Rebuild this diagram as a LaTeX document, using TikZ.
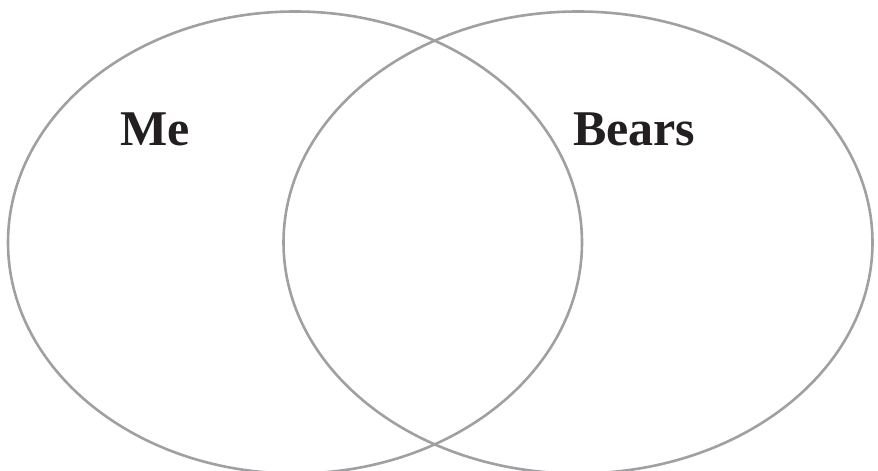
\documentclass[tikz,border=0pt]{standalone}
\usepackage{fontspec}
\setmainfont{Liberation Serif}
\definecolor{ringgray}{RGB}{160,160,163}
\definecolor{txt}{RGB}{35,31,32}
\begin{document}
\begin{tikzpicture}[x=1pt,y=-1pt,
  ring/.style={draw=ringgray,line width=2.6pt},
  lbl/.style={anchor=base west,inner sep=0pt,text=txt,font=\fontsize{50}{60}\selectfont\bfseries}]
\useasboundingbox (0,0) rectangle (878,471);
\draw[ring] (295,242.5) ellipse [x radius=287, y radius=231];
\draw[ring] (578,242.5) ellipse [x radius=294.5, y radius=231];
\node[lbl] (me) at (120,145) {Me};
\node[lbl] (bears) at (573,145) {Bears};
\end{tikzpicture}
\end{document}
